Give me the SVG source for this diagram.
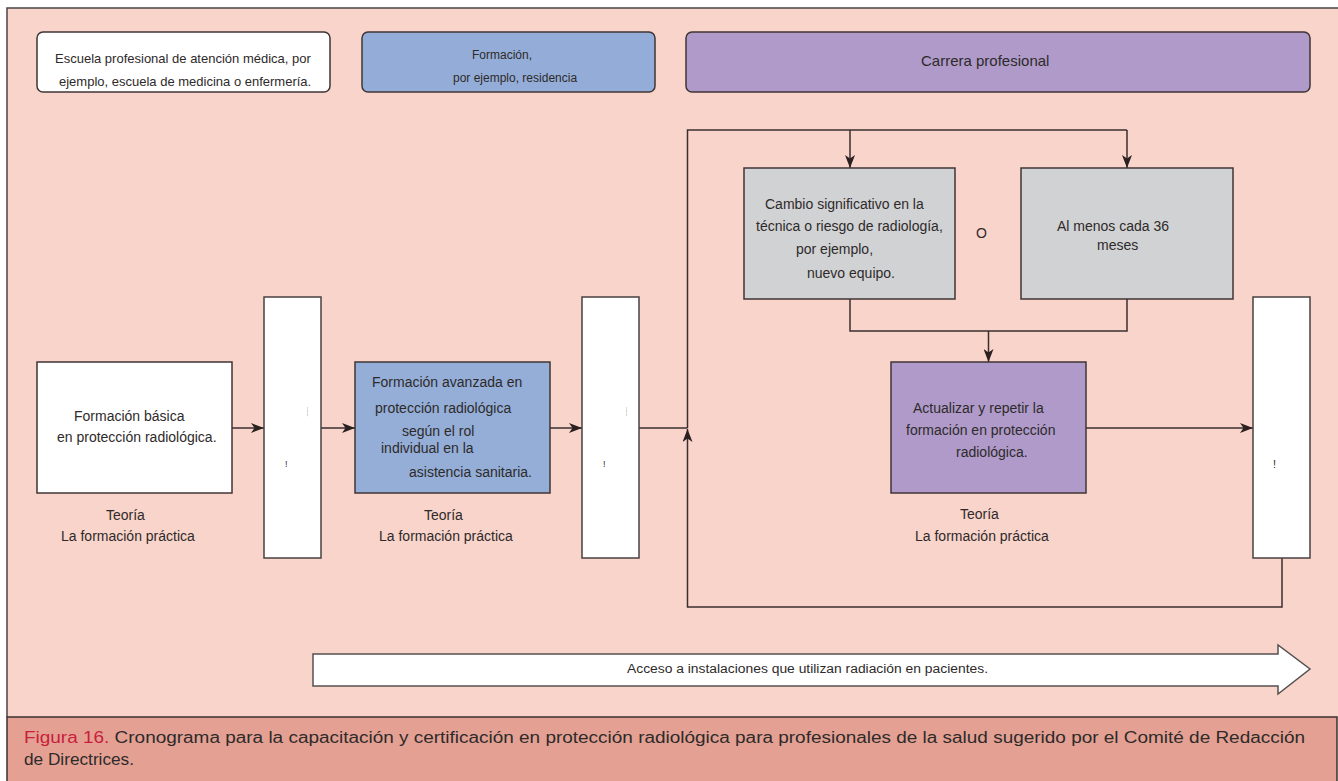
<svg xmlns="http://www.w3.org/2000/svg" width="1338" height="781" viewBox="0 0 1338 781">
<defs>
<style>
.t{font-family:"Liberation Sans",Arial,sans-serif;fill:#2e2a2a}
.s13{font-size:13px}.s12{font-size:12px}.s14{font-size:14px}.s15{font-size:15px}
.box{stroke:#3f3535;stroke-width:1.5}
.bar{fill:#ffffff;stroke:#4a4040;stroke-width:1.5}
.conn{fill:none;stroke:#3a2f2f;stroke-width:1.5}
</style>
<marker id="ah" viewBox="0 0 13 10" refX="13" refY="5" markerWidth="13" markerHeight="10" markerUnits="userSpaceOnUse" orient="auto">
<path d="M0,0 L13,5 L0,10 L3.5,5 z" fill="#2b2020"/>
</marker>
</defs>
<rect x="0" y="0" width="1338" height="781" fill="#ffffff"/>
<g id="panel">
<rect x="7" y="8" width="1331" height="709" fill="#F9D4CA"/>
<path d="M7 717 V8 H1338" fill="none" stroke="#4a4444" stroke-width="1.5"/>
</g>
<g id="phase-school">
<rect class="box" x="37" y="32" width="293" height="60" rx="6" fill="#ffffff"/>
<text class="t s13" x="55" y="63">Escuela profesional de atención médica, por</text>
<text class="t s13" x="59" y="86">ejemplo, escuela de medicina o enfermería.</text>
</g>
<g id="phase-training">
<rect class="box" x="362" y="32" width="293" height="60" rx="6" fill="#94ADD8"/>
<text class="t s12" x="472" y="59">Formación,</text>
<text class="t s12" x="453" y="82">por ejemplo, residencia</text>
</g>
<g id="phase-career">
<rect class="box" x="686" y="32" width="624" height="60" rx="6" fill="#AF9AC9"/>
<text class="t s15" x="921" y="66">Carrera profesional</text>
</g>
<g id="connectors">
<path class="conn" d="M232 428 H264" marker-end="url(#ah)"/>
<path class="conn" d="M321 428 H355" marker-end="url(#ah)"/>
<path class="conn" d="M550 428 H582" marker-end="url(#ah)"/>
<path class="conn" d="M639 428 H687.5"/>
<path class="conn" d="M687.5 428 V130 H1127"/>
<path class="conn" d="M850 130 V168" marker-end="url(#ah)"/>
<path class="conn" d="M1127 130 V168" marker-end="url(#ah)"/>
<path class="conn" d="M850 299 V331 H1127 V299"/>
<path class="conn" d="M988.5 331 V362" marker-end="url(#ah)"/>
<path class="conn" d="M1086 428 H1253" marker-end="url(#ah)"/>
<path class="conn" d="M1282 558 V607 H687.5 V429" marker-end="url(#ah)"/>
</g>
<g id="basic">
<rect class="box" x="37" y="362" width="195" height="131" fill="#ffffff"/>
<text class="t s14" x="74" y="421">Formación básica</text>
<text class="t s14" x="57" y="442">en protección radiológica.</text>
<text class="t s14" x="106" y="520">Teoría</text>
<text class="t s14" x="61" y="541">La formación práctica</text>
</g>
<g id="bar1">
<rect class="bar" x="264" y="297" width="57" height="261"/>
<text class="t" font-size="4" transform="translate(307,407) rotate(90)">-------</text>
<text class="t" font-size="9" x="285" y="467">!</text>
</g>
<g id="advanced">
<rect class="box" x="355" y="362" width="195" height="131" fill="#94AED8"/>
<text class="t s14" x="372" y="387">Formación avanzada en</text>
<text class="t s14" x="375" y="413">protección radiológica</text>
<text class="t s14" x="402" y="436">según el rol</text>
<text class="t s14" x="381" y="453">individual en la</text>
<text class="t s14" x="409" y="477">asistencia sanitaria.</text>
<text class="t s14" x="424" y="520">Teoría</text>
<text class="t s14" x="379" y="541">La formación práctica</text>
</g>
<g id="bar2">
<rect class="bar" x="582" y="297" width="57" height="261"/>
<text class="t" font-size="4" transform="translate(625.5,407) rotate(90)">-------</text>
<text class="t" font-size="9" x="603" y="467">!</text>
</g>
<g id="change">
<rect class="box" x="744" y="168" width="211" height="131" fill="#D1D2D4"/>
<text class="t s14" x="765" y="209">Cambio significativo en la</text>
<text class="t s14" x="756" y="231">técnica o riesgo de radiología,</text>
<text class="t s14" x="796" y="254">por ejemplo,</text>
<text class="t s14" x="807" y="278">nuevo equipo.</text>
</g>
<g id="or">
<text class="t s14" x="976" y="238">O</text>
</g>
<g id="interval">
<rect class="box" x="1021" y="168" width="212" height="131" fill="#D1D2D4"/>
<text class="t s14" x="1057" y="231">Al menos cada 36</text>
<text class="t s14" x="1097" y="250">meses</text>
</g>
<g id="update">
<rect class="box" x="891" y="362" width="195" height="131" fill="#AF9AC9"/>
<text class="t s14" x="913" y="413">Actualizar y repetir la</text>
<text class="t s14" x="906" y="435">formación en protección</text>
<text class="t s14" x="956" y="457">radiológica.</text>
<text class="t s14" x="960" y="519">Teoría</text>
<text class="t s14" x="915" y="541">La formación práctica</text>
</g>
<g id="bar3">
<rect class="bar" x="1253" y="297" width="57" height="261"/>
<text class="t" font-size="11" x="1273" y="468">!</text>
</g>
<g id="access">
<polygon points="313,654 1278,654 1278,645 1310,669 1278,694 1278,686 313,686" fill="#ffffff" stroke="#555050" stroke-width="1.5"/>
<text class="t" font-size="12" x="627" y="673" textLength="361" lengthAdjust="spacingAndGlyphs">Acceso a instalaciones que utilizan radiación en pacientes.</text>
</g>
<g id="caption">
<rect x="7" y="717" width="1330" height="66" fill="#E4A193" stroke="#3a3030" stroke-width="1.5"/>
<text class="t" font-size="16" x="24" y="743" textLength="1281" lengthAdjust="spacingAndGlyphs"><tspan fill="#C8203A">Figura 16.</tspan> Cronograma para la capacitación y certificación en protección radiológica para profesionales de la salud sugerido por el Comité de Redacción</text>
<text class="t" font-size="16" x="24" y="765" textLength="110" lengthAdjust="spacingAndGlyphs">de Directrices.</text>
</g>
</svg>
